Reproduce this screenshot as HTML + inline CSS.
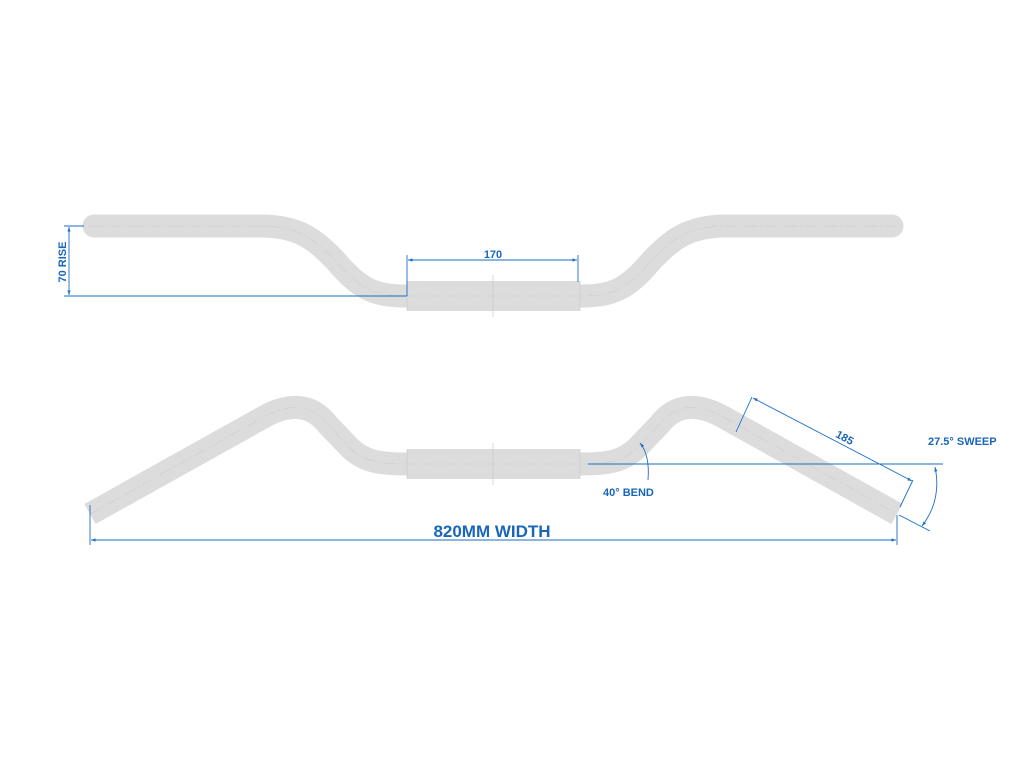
<!DOCTYPE html>
<html><head><meta charset="utf-8"><style>html,body{margin:0;padding:0;background:#fff}svg{display:block}</style></head>
<body>
<svg width="1024" height="768" viewBox="0 0 1024 768" xmlns="http://www.w3.org/2000/svg" font-family="Liberation Sans, sans-serif">
<defs>
<marker id="a" viewBox="0 0 10 10" refX="10" refY="5" markerWidth="7" markerHeight="5" orient="auto-start-reverse"><path d="M0,1.5 L10,5 L0,8.5z" fill="#1a6ec4"/></marker>
</defs>
<g fill="none" stroke="#dcdcdc">
<path d="M94,226 L260,226 C300,226 315,240 335,260 C360,290 375,296 407,296 L580,296 C612,296 627,290 652,260 C672,240 687,226 727,226 L892,226" stroke-width="23" stroke-linecap="round"/>
<rect x="407" y="281" width="173" height="30" fill="#dcdcdc" stroke="none"/>
<path d="M90,514 L262,418 C290,402 312,404 328,425 L350,448 C365,462 380,464 407,464 L580,464 C607,464 622,462 637,448 L659,425 C675,404 697,402 725,418 L897,514" stroke-width="23"/>
<rect x="407" y="449" width="173" height="30" fill="#dcdcdc" stroke="none"/>
</g>
<g fill="none" stroke="#cdcdcd" stroke-width="0.6" stroke-dasharray="12,3,2,3">
<path d="M90,226 L260,226 C300,226 315,240 335,260 C360,290 375,296 407,296 L580,296 C612,296 627,290 652,260 C672,240 687,226 727,226 L900,226"/>
<path d="M90,514 L262,418 C290,402 312,404 328,425 L350,448 C365,462 380,464 407,464 L580,464 C607,464 622,462 637,448 L659,425 C675,404 697,402 725,418 L897,514"/>
</g>
<g stroke="#cfcfcf" stroke-width="0.8">
<line x1="493" y1="275" x2="493" y2="317"/><line x1="493" y1="443" x2="493" y2="485"/>
<line x1="407" y1="281" x2="407" y2="311"/><line x1="580" y1="281" x2="580" y2="311"/>
<line x1="407" y1="449" x2="407" y2="479"/><line x1="580" y1="449" x2="580" y2="479"/>
</g>
<g stroke="#1a6ec4" stroke-width="0.9" fill="none">
<line x1="64" y1="226" x2="84" y2="226"/>
<line x1="64" y1="296" x2="407" y2="296"/>
<line x1="69" y1="227" x2="69" y2="295" marker-start="url(#a)" marker-end="url(#a)"/>
<line x1="407" y1="255" x2="407" y2="296"/>
<line x1="578" y1="255" x2="578" y2="282"/>
<line x1="408" y1="260" x2="577" y2="260" marker-start="url(#a)" marker-end="url(#a)"/>
<line x1="588" y1="464" x2="943" y2="464"/>
<path d="M640,443 Q650,455 648,480" marker-start="url(#a)"/>
<line x1="752" y1="397" x2="736" y2="432"/>
<line x1="913" y1="480" x2="900" y2="507"/>
<line x1="753" y1="398" x2="912" y2="481" marker-start="url(#a)" marker-end="url(#a)"/>
<line x1="899" y1="515" x2="930" y2="531"/>
<path d="M935,467 Q942,500 922,526" marker-start="url(#a)" marker-end="url(#a)"/>
<line x1="90" y1="505" x2="90" y2="545"/>
<line x1="897" y1="515" x2="897" y2="545"/>
<line x1="91" y1="540" x2="896" y2="540" marker-start="url(#a)" marker-end="url(#a)"/>
</g>
<g fill="#1a66b8" font-weight="bold">
<text x="66" y="262" font-size="11" text-anchor="middle" transform="rotate(-90 66 262)">70 RISE</text>
<text x="493" y="258" font-size="11" text-anchor="middle">170</text>
<text x="843" y="441" font-size="11" text-anchor="middle" transform="rotate(28 843 441)">185</text>
<text x="928" y="445" font-size="11">27.5° SWEEP</text>
<text x="603" y="496" font-size="11">40° BEND</text>
<text x="492" y="537" font-size="17" text-anchor="middle">820MM WIDTH</text>
</g>
</svg>
</body></html>
